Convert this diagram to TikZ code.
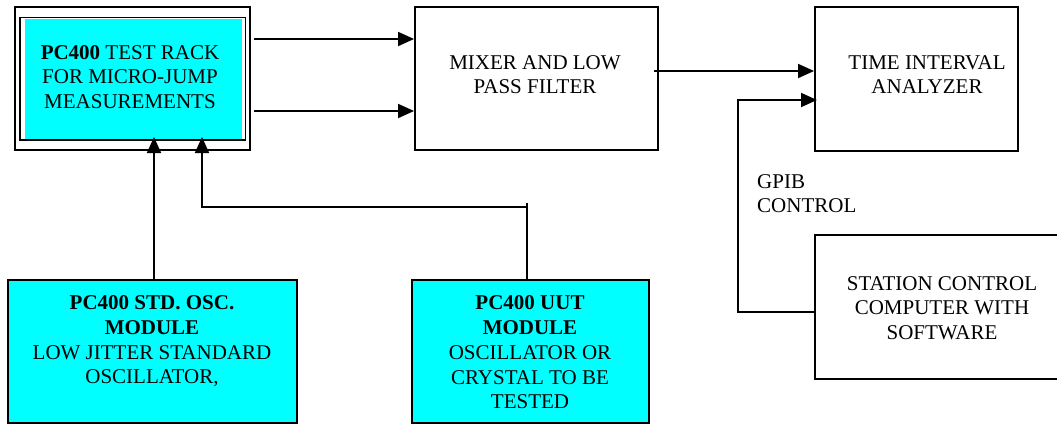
\documentclass[tikz,border=0pt]{standalone}
\usepackage{fontspec}
\setmainfont{Liberation Serif}
\usetikzlibrary{arrows.meta}
\definecolor{boxcyan}{HTML}{00FFFF}
\begin{document}
\begin{tikzpicture}[x=1pt,y=-1pt,
  box/.style={draw=black,line width=1.9pt,fill=white,inner sep=0pt,rectangle},
  cbox/.style={box,fill=boxcyan},
  txt/.style={inner sep=0pt,align=center,font=\fontsize{21}{24.7}\selectfont},
  conn/.style={draw=black,line width=1.8pt},
  arr/.style={conn,-{Triangle[length=16pt,width=14pt]}}]
\useasboundingbox (0,0) rectangle (1057,424);
% boxes
\node[box,minimum width=235pt,minimum height=143pt] (rack) at (132.5,78.5) {};
\node[box,minimum width=225.5pt,minimum height=122.5pt] (rackin) at (132.75,78.75) {};
\fill[boxcyan] (24.5,19) rectangle (241.5,138.5);
\node[box,minimum width=243pt,minimum height=143pt] (mix) at (536.5,78.5) {};
\node[box,minimum width=203pt,minimum height=144pt] (tia) at (916.5,79) {};
\node[box,minimum width=250pt,minimum height=144pt] (stn) at (940,307) {};
\node[cbox,minimum width=289pt,minimum height=143pt] (std) at (152.5,351.5) {};
\node[cbox,minimum width=237pt,minimum height=143pt] (uut) at (530.5,351.5) {};
% texts
\node[txt] (rackt) at (130,77) {\textbf{PC400} TEST RACK\\FOR MICRO-JUMP\\MEASUREMENTS};
\node[txt] (mixt) at (535,74.5) {MIXER AND LOW\\PASS FILTER};
\node[txt] (tiat) at (927,74.5) {TIME INTERVAL\\ANALYZER};
\node[txt] (stnt) at (942,308) {STATION CONTROL\\COMPUTER WITH\\SOFTWARE};
\node[txt] (stdt) at (152,341.5) {\textbf{PC400 STD. OSC.}\\\textbf{MODULE}\\LOW JITTER STANDARD\\OSCILLATOR,};
\node[txt] (uutt) at (530,352.5) {\textbf{PC400 UUT}\\\textbf{MODULE}\\OSCILLATOR OR\\CRYSTAL TO BE\\TESTED};
\node[txt,align=left,anchor=west] (gpib) at (757,193.5) {GPIB\\CONTROL};
% connectors
\coordinate (r1) at (254,39);
\coordinate (r2) at (254,111);
\draw[arr] (r1) -- (r1 -| mix.west);
\draw[arr] (r2) -- (r2 -| mix.west);
\coordinate (m1) at (654,71);
\draw[arr] (m1) -- (m1 -| tia.west);
\coordinate (s1) at (154,137);
\draw[arr] (s1 |- std.north) -- (s1);
\coordinate (u1) at (527,203);
\coordinate (u2) at (527,207);
\coordinate (u3) at (202,207);
\coordinate (u4) at (202,137);
\draw[conn] (u1 |- uut.north) -- (u1);
\draw[arr] (u2) -- (u3) -- (u4);
\coordinate (g1) at (738,312);
\coordinate (g2) at (738,100);
\coordinate (g3) at (817,100);
\draw[arr] (g1 -| stn.west) -- (g1) -- (g2) -- (g3);
\end{tikzpicture}
\end{document}
